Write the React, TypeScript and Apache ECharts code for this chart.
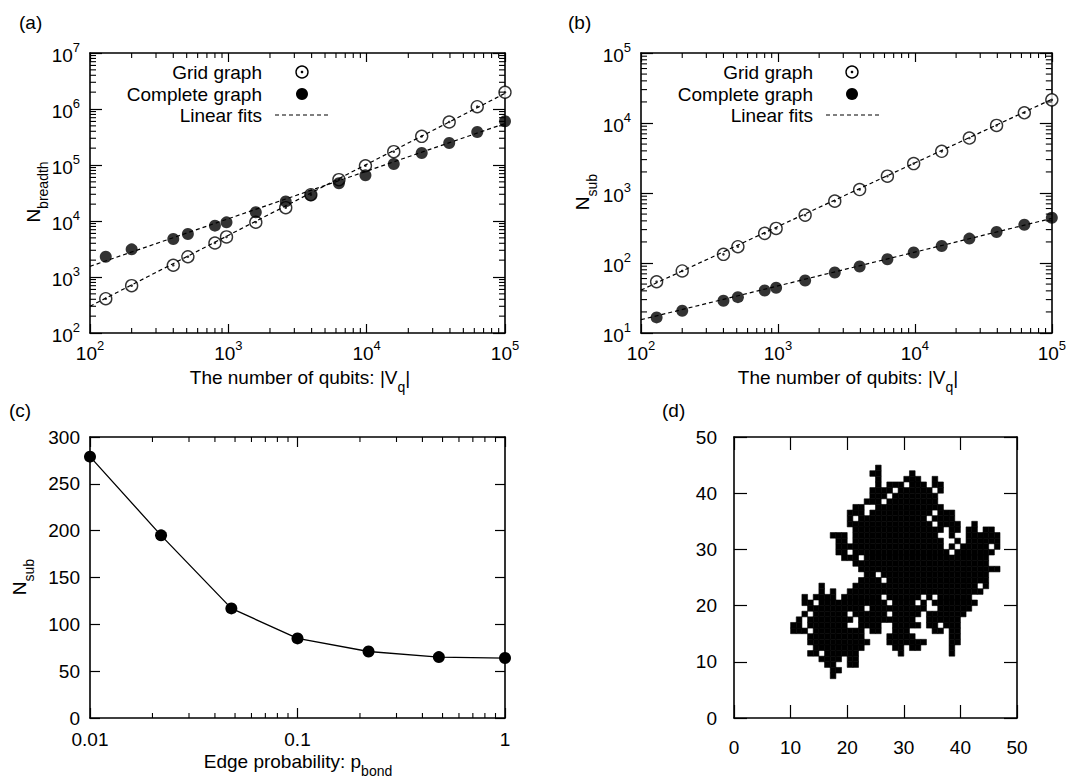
import React, { useEffect, useRef } from "react";
import * as echarts from "echarts";

const FONT = "'Liberation Sans', Arial, Helvetica, sans-serif";

// ---------- Panels (a) and (b): x = number of qubits ----------
const qubits = [130, 200, 400, 510, 800, 970, 1580, 2600, 3950, 6300, 9800, 15700, 25000, 39500, 63000, 100000];
const breadthGrid = [410, 700, 1620, 2300, 4050, 5200, 9500, 17300, 29500, 54700, 97000, 173000, 325000, 586000, 1100000, 1990000];
const breadthComplete = [2300, 3120, 4770, 5860, 8260, 9460, 14300, 22400, 28700, 47100, 65300, 104000, 164000, 247000, 388000, 603000];
const breadthFitGrid = [[100, 300], [100000, 1900000]];
const breadthFitComplete = [[100, 1550], [100000, 550000]];

const subGrid = [54, 77, 133, 171, 265, 312, 483, 765, 1120, 1740, 2630, 3940, 6100, 9240, 14000, 21400];
const subComplete = [16.7, 20.8, 28.9, 32.5, 40.5, 44.2, 56.2, 73, 89, 113, 141, 175, 223, 277, 352, 443];
const subFitGrid = [[100, 41], [100000, 21800]];
const subFitComplete = [[100, 15.5], [100000, 434]];

// ---------- Panel (c) ----------
const pBond = [0.01, 0.022, 0.048, 0.1, 0.22, 0.48, 1];
const nSubBond = [279, 195, 117, 85, 71, 65, 64];

// ---------- Panel (d): cluster cells as runs [y, xStart, xEnd] ----------
const clusterRuns = [
  [44, 25, 25],
  [43, 24, 25], [43, 31, 31],
  [42, 25, 25], [42, 30, 32], [42, 35, 35],
  [41, 25, 25], [41, 27, 29], [41, 31, 33], [41, 35, 36],
  [40, 24, 27], [40, 29, 34], [40, 36, 36],
  [39, 24, 26], [39, 28, 35],
  [38, 23, 25], [38, 27, 35],
  [37, 21, 22], [37, 25, 36],
  [36, 20, 22], [36, 24, 34], [36, 36, 38],
  [35, 20, 20], [35, 22, 33], [35, 35, 38],
  [34, 20, 34], [34, 36, 39], [34, 42, 42],
  [33, 21, 36], [33, 38, 39], [33, 41, 42], [33, 44, 45],
  [32, 17, 19], [32, 21, 35], [32, 38, 38], [32, 41, 46],
  [31, 18, 19], [31, 21, 36], [31, 39, 39], [31, 41, 46],
  [30, 18, 36], [30, 38, 38], [30, 40, 44], [30, 46, 46],
  [29, 18, 19], [29, 21, 37], [29, 39, 45],
  [28, 19, 21], [28, 23, 44],
  [27, 21, 44],
  [26, 22, 46],
  [25, 23, 24], [25, 26, 44],
  [24, 22, 25], [24, 27, 44],
  [23, 15, 15], [23, 21, 42], [23, 44, 44],
  [22, 15, 15], [22, 17, 17], [22, 20, 43],
  [21, 12, 12], [21, 14, 17], [21, 19, 25], [21, 27, 32], [21, 34, 34], [21, 36, 41],
  [20, 12, 13], [20, 15, 26], [20, 28, 31], [20, 33, 33], [20, 35, 42],
  [19, 13, 22], [19, 24, 33], [19, 36, 41],
  [18, 12, 12], [18, 14, 19], [18, 21, 26], [18, 28, 32], [18, 34, 40],
  [17, 11, 11], [17, 13, 20], [17, 22, 31], [17, 34, 39],
  [16, 10, 11], [16, 13, 19], [16, 22, 25], [16, 28, 32], [16, 34, 35], [16, 37, 39],
  [15, 10, 12], [15, 14, 22], [15, 24, 25], [15, 28, 30], [15, 35, 36], [15, 38, 39],
  [14, 13, 22], [14, 27, 31], [14, 38, 39],
  [13, 13, 23], [13, 27, 33], [13, 38, 39],
  [12, 14, 22], [12, 28, 29], [12, 31, 32], [12, 38, 38],
  [11, 13, 14], [11, 16, 21], [11, 29, 29], [11, 38, 38],
  [10, 15, 18], [10, 20, 21],
  [9, 16, 17], [9, 20, 21],
  [8, 17, 18],
  [7, 17, 17],
];

const legendLabels = ["Grid graph", "Complete graph", "Linear fits"];

// ---------- layout ----------
const GRIDS = [
  { left: 90, top: 53, width: 415, height: 280 },
  { left: 641, top: 53, width: 414, height: 280 },
  { left: 90, top: 437, width: 415, height: 281 },
  { left: 734, top: 437, width: 283, height: 281 },
];

const axisLineStyle = { color: "#000", width: 1.6 };
const tickStyle = { color: "#000", width: 1.2 };

const supRich = {
  b: { fontSize: 19, fontFamily: FONT, color: "#000", lineHeight: 24, verticalAlign: "bottom" },
  s: { fontSize: 13, fontFamily: FONT, color: "#000", lineHeight: 14, verticalAlign: "top" },
};
const supFmt = (v: number) => `{b|10}{s|${Math.round(Math.log10(v))}}`;

function makeAxis(type: string, gridIndex: number, min: number, max: number, position: string, tickLen: number, label: any, extra: any = {}) {
  return {
    type,
    gridIndex,
    min,
    max,
    position,
    ...(type === "log" ? { logBase: 10 } : {}),
    axisLine: { show: true, onZero: false, lineStyle: axisLineStyle },
    axisTick: { show: true, inside: true, length: tickLen, lineStyle: tickStyle },
    axisLabel: label
      ? { show: true, color: "#000", fontFamily: FONT, fontSize: 19, ...label }
      : { show: false },
    splitLine: { show: false },
    minorTick: { show: false },
    ...extra,
  };
}

function decadeMinors(lo: number, hi: number) {
  const out: number[] = [];
  for (let e = lo; e < hi; e++) for (let k = 2; k <= 9; k++) out.push(k * Math.pow(10, e));
  return out;
}

function minorTickSeries(xi: number, yi: number, xr: number[], yr: number[], xTicks: number[], yTicks: number[], lenX: number, lenY: number) {
  const data = [
    ...xTicks.map((v) => [v, yr[0], 0]),
    ...yTicks.map((v) => [xr[0], v, 1]),
  ];
  return {
    type: "custom",
    xAxisIndex: xi,
    yAxisIndex: yi,
    silent: true,
    z: 5,
    data,
    encode: { x: 0, y: 1 },
    renderItem: (_p: any, api: any) => {
      const style = { stroke: "#000", lineWidth: 1.1 };
      if (api.value(2) === 0) {
        const v = api.value(0);
        const p = api.coord([v, yr[0]]);
        const q = api.coord([v, yr[1]]);
        return {
          type: "group",
          children: [
            { type: "line", shape: { x1: p[0], y1: p[1], x2: p[0], y2: p[1] - lenX }, style },
            { type: "line", shape: { x1: q[0], y1: q[1], x2: q[0], y2: q[1] + lenX }, style },
          ],
        };
      }
      const v = api.value(1);
      const p = api.coord([xr[0], v]);
      const q = api.coord([xr[1], v]);
      return {
        type: "group",
        children: [
          { type: "line", shape: { x1: p[0], y1: p[1], x2: p[0] + lenY, y2: p[1] }, style },
          { type: "line", shape: { x1: q[0], y1: q[1], x2: q[0] - lenY, y2: q[1] }, style },
        ],
      };
    },
  };
}

function pointSeries(xi: number, yi: number, gridVals: number[], compVals: number[], fitG: number[][], fitC: number[][]) {
  const gData = qubits.map((q, i) => [q, gridVals[i]]);
  const cData = qubits.map((q, i) => [q, compVals[i]]);
  return [
    {
      type: "scatter", xAxisIndex: xi, yAxisIndex: yi, data: gData, symbol: "circle", symbolSize: 12, z: 3,
      itemStyle: { color: "#fff", borderColor: "#000", borderWidth: 1.4 },
    },
    {
      type: "scatter", xAxisIndex: xi, yAxisIndex: yi, data: gData, symbol: "circle", symbolSize: 2.6, z: 4,
      itemStyle: { color: "#000" },
    },
    {
      type: "scatter", xAxisIndex: xi, yAxisIndex: yi, data: cData, symbol: "circle", symbolSize: 12, z: 3,
      itemStyle: { color: "#000" },
    },
    ...[fitG, fitC].map((f) => ({
      type: "line", xAxisIndex: xi, yAxisIndex: yi, data: f, symbol: "none", z: 6,
      lineStyle: { color: "#000", width: 1.2, type: [4, 3] },
    })),
  ];
}

function txt(x: number, y: number, text: string, rich: any, align = "center", rotation = 0) {
  return {
    type: "text",
    x,
    y,
    rotation,
    silent: true,
    style: {
      text,
      rich,
      fill: "#000",
      fontSize: 19,
      fontFamily: FONT,
      align,
      verticalAlign: "middle",
    },
  };
}

const subRich = {
  b: { fontSize: 19, fontFamily: FONT, fill: "#000", lineHeight: 26, verticalAlign: "top" },
  s: { fontSize: 14, fontFamily: FONT, fill: "#000", lineHeight: 15, verticalAlign: "bottom" },
};

function legendGraphics(tx: number, sx: number, d0: number, d1: number) {
  const rows = [72, 94, 115];
  return [
    txt(tx, rows[0], legendLabels[0], undefined, "right"),
    txt(tx, rows[1], legendLabels[1], undefined, "right"),
    txt(tx, rows[2], legendLabels[2], undefined, "right"),
    { type: "circle", shape: { cx: sx, cy: rows[0], r: 6 }, style: { fill: "#fff", stroke: "#000", lineWidth: 1.4 } },
    { type: "circle", shape: { cx: sx, cy: rows[0], r: 1.3 }, style: { fill: "#000" } },
    { type: "circle", shape: { cx: sx, cy: rows[1], r: 6 }, style: { fill: "#000" } },
    {
      type: "line",
      shape: { x1: d0, y1: rows[2], x2: d1, y2: rows[2] },
      style: { stroke: "#000", lineWidth: 1.2, lineDash: [4, 3] },
    },
  ];
}

export default function App() {
  const ref = useRef<HTMLDivElement>(null);
  useEffect(() => {
    if (!ref.current) return;
    const chart = echarts.init(ref.current, undefined, { renderer: "svg" });

    const supLabelX = { formatter: supFmt, rich: supRich, margin: 6 };
    const supLabelY = { formatter: supFmt, rich: supRich, margin: 10 };

    const xAxis = [
      makeAxis("log", 0, 100, 100000, "bottom", 9, supLabelX),
      makeAxis("log", 0, 100, 100000, "top", 9, null),
      makeAxis("log", 1, 100, 100000, "bottom", 9, supLabelX),
      makeAxis("log", 1, 100, 100000, "top", 9, null),
      makeAxis("log", 2, 0.01, 1, "bottom", 10, { formatter: (v: number) => String(v), margin: 12 }),
      makeAxis("log", 2, 0.01, 1, "top", 10, null),
      makeAxis("value", 3, 0, 50, "bottom", 13, { margin: 20 }, { interval: 10 }),
      makeAxis("value", 3, 0, 50, "top", 13, null, { interval: 10 }),
    ];
    const yAxis = [
      makeAxis("log", 0, 100, 10000000, "left", 12, supLabelY),
      makeAxis("log", 0, 100, 10000000, "right", 12, null),
      makeAxis("log", 1, 10, 100000, "left", 12, supLabelY),
      makeAxis("log", 1, 10, 100000, "right", 12, null),
      makeAxis("value", 2, 0, 300, "left", 10, { margin: 10 }, { interval: 50 }),
      makeAxis("value", 2, 0, 300, "right", 10, null, { interval: 50 }),
      makeAxis("value", 3, 0, 50, "left", 13, { margin: 17 }, { interval: 10 }),
      makeAxis("value", 3, 0, 50, "right", 13, null, { interval: 10 }),
    ];

    const clusterCells: number[][] = [];
    clusterRuns.forEach(([y, x0, x1]) => {
      for (let x = x0; x <= x1; x++) clusterCells.push([x, y]);
    });

    const series: any[] = [
      ...pointSeries(0, 0, breadthGrid, breadthComplete, breadthFitGrid, breadthFitComplete),
      ...pointSeries(2, 2, subGrid, subComplete, subFitGrid, subFitComplete),
      minorTickSeries(0, 0, [100, 100000], [100, 10000000], decadeMinors(2, 5), decadeMinors(2, 7), 5, 6),
      minorTickSeries(2, 2, [100, 100000], [10, 100000], decadeMinors(2, 5), decadeMinors(1, 5), 5, 6),
      minorTickSeries(4, 4, [0.01, 1], [0, 300], decadeMinors(-2, 0), [], 5, 5),
      {
        type: "line",
        xAxisIndex: 4,
        yAxisIndex: 4,
        data: pBond.map((p, i) => [p, nSubBond[i]]),
        symbol: "circle",
        symbolSize: 12,
        z: 3,
        lineStyle: { color: "#000", width: 1.3 },
        itemStyle: { color: "#000" },
      },
      {
        type: "custom",
        xAxisIndex: 6,
        yAxisIndex: 6,
        data: clusterCells,
        encode: { x: 0, y: 1 },
        silent: true,
        renderItem: (_p: any, api: any) => {
          const x = api.value(0);
          const y = api.value(1);
          const a = api.coord([x, y + 1]);
          const b = api.coord([x + 1, y]);
          return {
            type: "rect",
            shape: { x: a[0], y: a[1], width: b[0] - a[0], height: b[1] - a[1] },
            style: { fill: "#000", stroke: "#000", lineWidth: 0.6 },
          };
        },
      },
    ];

    const graphic = [
      txt(19, 22, "(a)", undefined, "left"),
      txt(568, 22, "(b)", undefined, "left"),
      txt(9, 410, "(c)", undefined, "left"),
      txt(662, 410, "(d)", undefined, "left"),
      txt(300, 381, "{b|The number of qubits: |V}{s|q}{b||}", subRich),
      txt(848, 381, "{b|The number of qubits: |V}{s|q}{b||}", subRich),
      txt(298, 765, "{b|Edge probability: p}{s|bond}", subRich),
      txt(37, 192, "{b|N}{s|breadth}", subRich, "center", Math.PI / 2),
      txt(586, 192, "{b|N}{s|sub}", subRich, "center", Math.PI / 2),
      txt(23, 577, "{b|N}{s|sub}", subRich, "center", Math.PI / 2),
      ...legendGraphics(262, 302, 275, 330),
      ...legendGraphics(813, 852, 826, 881),
    ];

    chart.setOption({
      animation: false,
      backgroundColor: "#fff",
      textStyle: { fontFamily: FONT },
      grid: GRIDS.map((g) => ({ ...g, containLabel: false })),
      xAxis,
      yAxis,
      series,
      graphic,
    });
    return () => chart.dispose();
  }, []);

  return (
    <div
      ref={ref}
      style={{ position: "absolute", left: 0, top: 0, width: 1069, height: 778, background: "#fff" }}
    />
  );
}
